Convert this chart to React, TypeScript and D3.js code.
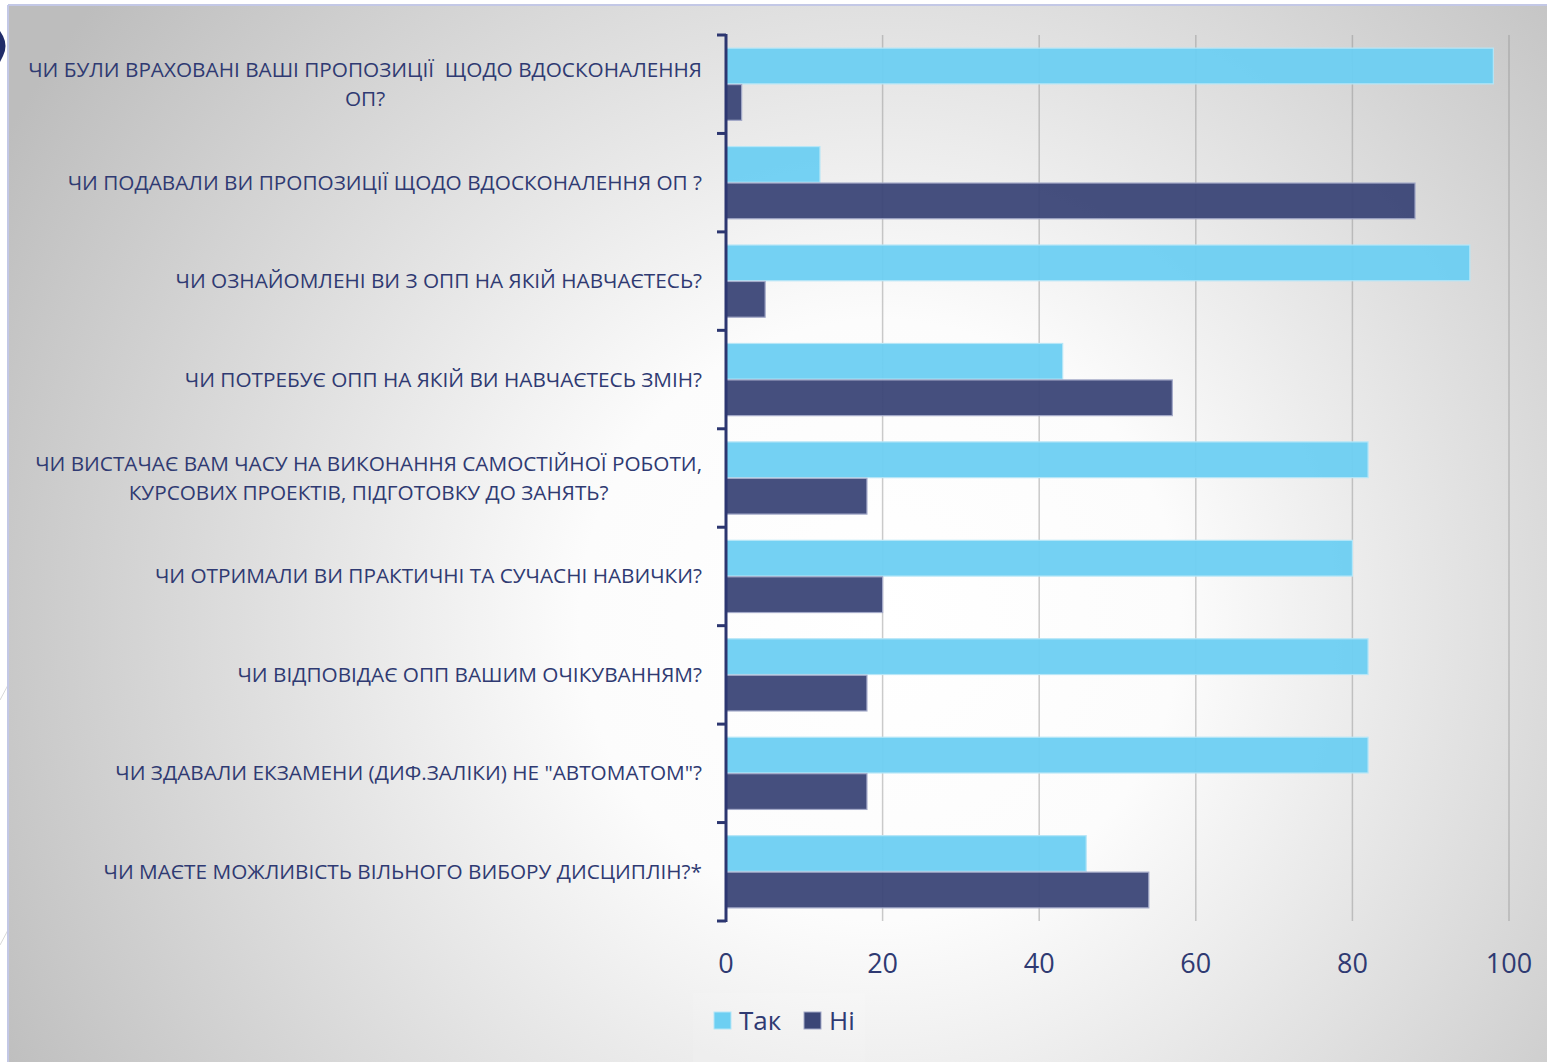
import React, { useEffect, useRef } from "react";
import * as d3 from "d3";

const categories: string[][] = [
  ["ЧИ БУЛИ ВРАХОВАНІ ВАШІ ПРОПОЗИЦІЇ  ЩОДО ВДОСКОНАЛЕННЯ", "ОП?"],
  ["ЧИ ПОДАВАЛИ ВИ ПРОПОЗИЦІЇ ЩОДО ВДОСКОНАЛЕННЯ ОП ?"],
  ["ЧИ ОЗНАЙОМЛЕНІ ВИ З ОПП НА ЯКІЙ НАВЧАЄТЕСЬ?"],
  ["ЧИ ПОТРЕБУЄ ОПП НА ЯКІЙ ВИ НАВЧАЄТЕСЬ ЗМІН?"],
  ["ЧИ ВИСТАЧАЄ ВАМ ЧАСУ НА ВИКОНАННЯ САМОСТІЙНОЇ РОБОТИ,", "КУРСОВИХ ПРОЕКТІВ, ПІДГОТОВКУ ДО ЗАНЯТЬ?"],
  ["ЧИ ОТРИМАЛИ ВИ ПРАКТИЧНІ ТА СУЧАСНІ НАВИЧКИ?"],
  ["ЧИ ВІДПОВІДАЄ ОПП ВАШИМ ОЧІКУВАННЯМ?"],
  ["ЧИ ЗДАВАЛИ ЕКЗАМЕНИ (ДИФ.ЗАЛІКИ) НЕ \"АВТОМАТОМ\"?"],
  ["ЧИ МАЄТЕ МОЖЛИВІСТЬ ВІЛЬНОГО ВИБОРУ ДИСЦИПЛІН?*"],
];
const takValues = [98, 12, 95, 43, 82, 80, 82, 82, 46];
const niValues = [2, 88, 5, 57, 18, 20, 18, 18, 54];
const seriesNames = ["Так", "Ні"];
const xTicks = [0, 20, 40, 60, 80, 100];

const W = 1547;
const H = 1062;
const TEXT = "#2f3a72";
const TAK = "#6dcff2";
const NI = "#3b4677";
const AXIS = "#2c3670";

export default function App() {
  const labelsRef = useRef<SVGGElement | null>(null);

  const x = d3.scaleLinear().domain([0, 100]).range([726, 1509]);
  const y = d3.scaleBand<number>().domain(d3.range(categories.length)).range([35, 921]).paddingInner(0).paddingOuter(0);
  const inner = d3.scaleBand<string>().domain(seriesNames).range([0, y.bandwidth()]).paddingInner(0.02).paddingOuter(0.36);
  const values = [takValues, niValues];
  const colors = [TAK, NI];
  const strokes = ["#b6e6f7", "#a3a9c8"];

  useEffect(() => {
    const g = d3.select(labelsRef.current);
    g.selectAll<SVGTextElement, unknown>("text.multi").each(function () {
      const t = d3.select(this);
      let maxW = 0;
      t.selectAll<SVGTSpanElement, unknown>("tspan").each(function () {
        maxW = Math.max(maxW, this.getComputedTextLength());
      });
      const cx = 702 - maxW / 2;
      t.attr("text-anchor", "middle");
      t.selectAll("tspan").attr("x", cx);
    });
  }, []);

  const boundaries = d3.range(categories.length + 1).map((i) => 35 + i * y.step());

  return (
    <svg width={W} height={H} style={{ position: "absolute", left: 0, top: 0, background: "#fff" }}>
      <defs>
        <radialGradient id="bg" gradientUnits="userSpaceOnUse" cx={880} cy={620} r={1000}>
          <stop offset="0" stopColor="#ffffff" />
          <stop offset="0.3" stopColor="#fcfcfc" />
          <stop offset="1" stopColor="#bdbdbd" />
        </radialGradient>
      </defs>
      {/* outside slide decorations */}
      <line x1={0} y1={700} x2={8} y2={685} stroke="#d8d8d8" strokeWidth={1} />
      <line x1={0} y1={945} x2={8} y2={930} stroke="#d8d8d8" strokeWidth={1} />
      <path d="M0,31 L3,36 Q8,46 3,56 L0,62 Z" fill="#1f2b69" />
      {/* chart area */}
      <rect x={8} y={5} width={W - 8} height={H - 5} fill="url(#bg)" />
      <line x1={8} y1={5} x2={W} y2={5} stroke="#c3c8e6" strokeWidth={2} />
      <line x1={8} y1={5} x2={8} y2={H} stroke="#c3c8e6" strokeWidth={2} />
      {/* gridlines */}
      {xTicks.filter((t) => t > 0).map((t) => (
        <line key={t} x1={x(t)} x2={x(t)} y1={35} y2={921} stroke="#8c8c8c" strokeOpacity={0.45} strokeWidth={1.5} />
      ))}
      {/* bars */}
      {values.map((vals, si) =>
        vals.map((v, i) => (
          <rect
            key={`${si}-${i}`}
            x={x(0)}
            y={(y(i) as number) + (inner(seriesNames[si]) as number)}
            width={x(v) - x(0)}
            height={inner.bandwidth()}
            fill={colors[si]}
            fillOpacity={0.95}
            stroke={strokes[si]}
            strokeWidth={1.2}
          />
        ))
      )}
      {/* y axis */}
      <line x1={726} x2={726} y1={34} y2={922} stroke={AXIS} strokeWidth={3} />
      {boundaries.map((b, i) => (
        <line key={i} x1={717} x2={726} y1={b} y2={b} stroke={AXIS} strokeWidth={3} />
      ))}
      {/* category labels */}
      <g ref={labelsRef} fontFamily="'Open Sans', sans-serif" fontSize={20.75} fill={TEXT}>
        {categories.map((lines, i) => {
          const cy = (y(i) as number) + y.bandwidth() / 2;
          if (lines.length === 1) {
            return (
              <text key={i} x={702} y={cy + 7} textAnchor="end" style={{ whiteSpace: "pre" }}>
                {lines[0]}
              </text>
            );
          }
          return (
            <text key={i} className="multi" x={702} y={cy} textAnchor="end" style={{ whiteSpace: "pre" }}>
              {lines.map((l, k) => (
                <tspan key={k} x={702} y={cy + 7 + (k - (lines.length - 1) / 2) * 29}>
                  {l}
                </tspan>
              ))}
            </text>
          );
        })}
      </g>
      {/* x tick labels */}
      <g fontFamily="'Open Sans', sans-serif" fontSize={27} fill={TEXT} textAnchor="middle">
        {xTicks.map((t) => (
          <text key={t} x={x(t)} y={973}>
            {t}
          </text>
        ))}
      </g>
      {/* legend */}
      <rect x={693} y={993} width={172} height={69} fill="#ffffff" fillOpacity={0.1} />
      <g fontFamily="'Open Sans', sans-serif" fontSize={26} fill={TEXT}>
        {seriesNames.map((s, i) => {
          const lx = 714 + i * 90;
          return (
            <g key={s}>
              <rect x={lx} y={1012} width={17} height={17} fill={colors[i]} stroke={strokes[i]} strokeWidth={1} />
              <text x={lx + 25} y={1030}>
                {s}
              </text>
            </g>
          );
        })}
      </g>
    </svg>
  );
}
